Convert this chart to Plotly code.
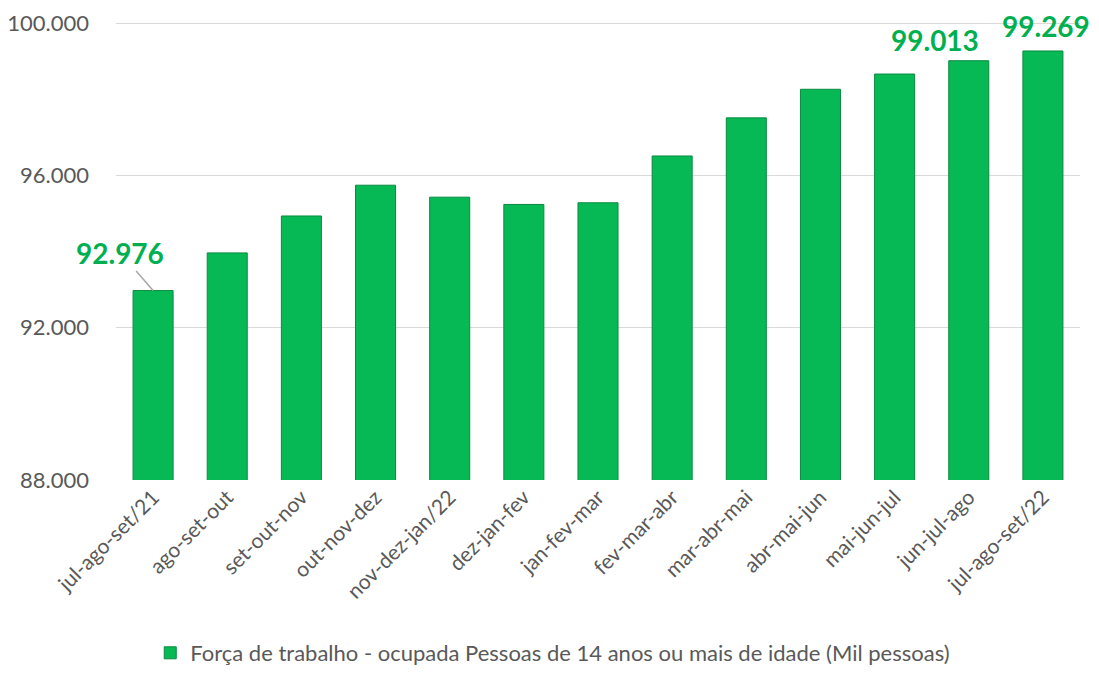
import plotly.graph_objects as go

# trimestres moveis
periods = [
    "jul-ago-set/21", "ago-set-out", "set-out-nov", "out-nov-dez", "nov-dez-jan/22",
    "dez-jan-fev", "jan-fev-mar", "fev-mar-abr", "mar-abr-mai", "abr-mai-jun",
    "mai-jun-jul", "jun-jul-ago", "jul-ago-set/22",
]
# forca de trabalho ocupada (mil pessoas)
occupied = [92976, 93965, 94935, 95743, 95429, 95238, 95282,
            96511, 97512, 98263, 98663, 99013, 99269]

y_ticks = [88000, 92000, 96000, 100000]

green_bar = "#07B955"
green_text = "#00B050"
grey = "#595959"

fig = go.Figure()
fig.add_trace(go.Bar(
    x=periods,
    y=occupied,
    name="Força de trabalho - ocupada Pessoas de 14 anos ou mais de idade (Mil pessoas)",
    marker=dict(color=green_bar, line=dict(color="#0A8A40", width=1)),
))

# data labels: first and last two only, like the original
label_font = dict(size=28, color=green_text, family="Lato", weight="bold")
fig.add_annotation(
    x=periods[0], y=occupied[0], text=f"{occupied[0]:,}".replace(",", "."),
    showarrow=True, arrowhead=0, arrowwidth=1.5, arrowcolor="#A6A6A6",
    ax=-33, ay=-38, font=label_font,
)
fig.add_annotation(
    x=periods[11], y=occupied[11], text=f"{occupied[11]:,}".replace(",", "."),
    showarrow=False, xshift=-34, yshift=21, yanchor="middle", font=label_font,
)
fig.add_annotation(
    x=periods[12], y=occupied[12], text=f"{occupied[12]:,}".replace(",", "."),
    showarrow=False, xshift=3, yshift=25, yanchor="middle", font=label_font,
)

# page body adds 8px, so the figure is a bit smaller than the window
fig.update_layout(
    width=1083, height=666,
    margin=dict(l=108, r=11, t=14, b=194, autoexpand=False),
    paper_bgcolor="white", plot_bgcolor="white",
    separators=",.",
    bargap=0.46,
    font=dict(family="Lato", color=grey),
    showlegend=True,
    legend=dict(
        orientation="h", xref="container", x=0.503, xanchor="center",
        yref="container", y=0.0, yanchor="bottom", font=dict(size=22, color=grey),
        itemwidth=30,
    ),
)
fig.update_xaxes(
    type="category", range=[-0.5, len(periods) - 0.5],
    tickangle=-45, tickfont=dict(size=21, color=grey),
    showline=False, ticks="", automargin=False,
)
fig.update_yaxes(
    range=[88000, 100030], tickvals=y_ticks, tickformat=",.0f",
    tickfont=dict(size=22, color=grey),
    showgrid=True, gridcolor="#D9D9D9", gridwidth=1,
    zeroline=False, ticks="", ticklabelstandoff=26, automargin=False,
)

fig.write_html("out.html")
